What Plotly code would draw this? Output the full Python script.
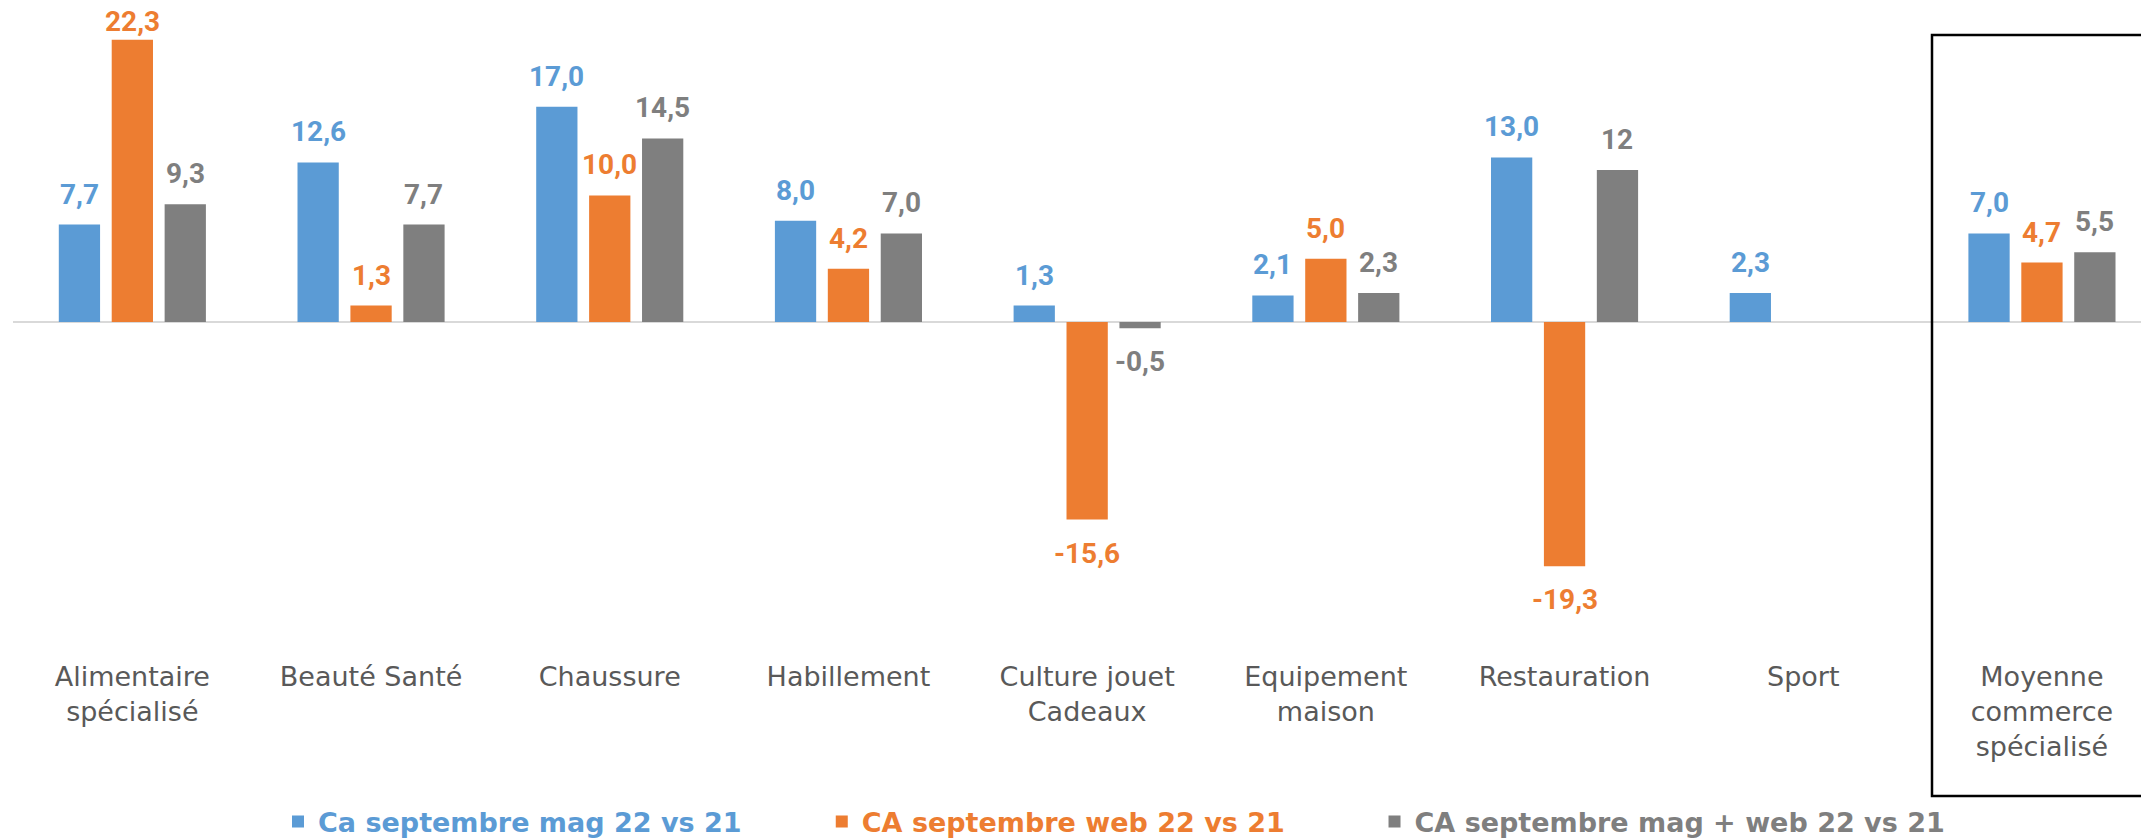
import plotly.graph_objects as go

# ---------------- data ----------------
categories = [
    "Alimentaire<br>spécialisé",
    "Beauté Santé",
    "Chaussure",
    "Habillement",
    "Culture jouet<br>Cadeaux",
    "Equipement<br>maison",
    "Restauration",
    "Sport",
    "Moyenne<br>commerce<br>spécialisé",
]
ca_mag = [7.7, 12.6, 17.0, 8.0, 1.3, 2.1, 13.0, 2.3, 7.0]
ca_web = [22.3, 1.3, 10.0, 4.2, -15.6, 5.0, -19.3, None, 4.7]
ca_total = [9.3, 7.7, 14.5, 7.0, -0.5, 2.3, 12, None, 5.5]
series_names = [
    "Ca septembre mag 22 vs 21",
    "CA septembre web 22 vs 21",
    "CA septembre mag + web 22 vs 21",
]
series_values = [ca_mag, ca_web, ca_total]
colors = ["#5B9BD5", "#ED7D31", "#7F7F7F"]

# ---------------- layout constants ----------------
W, H = 2141, 839
M_L, M_T, M_B, M_R = 13, 0, 189, 0
PLOT_H = H - M_T - M_B
PLOT_W = W - M_L - M_R
PX_PER_UNIT = 12.66
ZERO_PX = 322
Y_MAX = ZERO_PX / PX_PER_UNIT
Y_MIN = -(PLOT_H - ZERO_PX) / PX_PER_UNIT
CAT_PX = 238.7
X_MAX = PLOT_W / CAT_PX - 0.5
BARGAP = 0.335
BARGROUPGAP = 0.22
SLOT = (1 - BARGAP) / 3
LEGEND_PADS = [8, 9, 0]  # trailing non-breaking spaces after each legend entry


def fmt(v):
    if isinstance(v, int):
        return str(v)
    return f"{v:.1f}".replace(".", ",")


fig = go.Figure()
for k, (name, vals, col) in enumerate(zip(series_names, series_values, colors)):
    pad = "&nbsp;" * LEGEND_PADS[k]
    fig.add_trace(go.Bar(
        x=categories, y=vals,
        name=f'<span style="color:{col}">{name}</span>{pad}',
        marker=dict(color=col, line=dict(width=0)),
        hoverinfo="skip",
    ))

annotations = []
for k, (vals, col) in enumerate(zip(series_values, colors)):
    for i, v in enumerate(vals):
        if v is None:
            continue
        xpos = i + (k - 1) * SLOT
        if v >= 0:
            top_px = (Y_MAX - v) * PX_PER_UNIT
            shift = min(12, top_px - 40)
            annotations.append(dict(
                x=xpos, y=v, xref="x", yref="y", text=fmt(v), showarrow=False,
                yanchor="bottom", yshift=shift,
                font=dict(family="Roboto", size=28, color=col, weight="bold"),
            ))
        else:
            annotations.append(dict(
                x=xpos, y=v, xref="x", yref="y", text=fmt(v), showarrow=False,
                yanchor="top", yshift=-15,
                font=dict(family="Roboto", size=28, color=col, weight="bold"),
            ))

fig.update_layout(
    width=W, height=H,
    margin=dict(l=M_L, r=M_R, t=M_T, b=M_B, pad=0, autoexpand=False),
    paper_bgcolor="white", plot_bgcolor="white",
    barmode="group", bargap=BARGAP, bargroupgap=BARGROUPGAP,
    showlegend=True,
    legend=dict(
        orientation="h", xref="paper", yref="paper",
        x=(278 - M_L) / PLOT_W, y=(PLOT_H - 822) / PLOT_H,
        xanchor="left", yanchor="middle",
        font=dict(family="DejaVu Sans", size=27, color="#7F7F7F", weight="bold"),
        traceorder="normal", bgcolor="rgba(0,0,0,0)",
    ),
    xaxis=dict(
        range=[-0.5, X_MAX], showgrid=False, showline=False, zeroline=False,
        ticks="", ticklabelstandoff=8, automargin=False,
        tickfont=dict(family="DejaVu Sans", size=27, color="#595959"),
        fixedrange=True,
    ),
    yaxis=dict(
        range=[Y_MIN, Y_MAX], showgrid=False, showline=False, showticklabels=False,
        zeroline=True, zerolinecolor="#D9D9D9", zerolinewidth=2, fixedrange=True,
        automargin=False,
    ),
    annotations=annotations,
    shapes=[dict(
        type="rect", xref="paper", yref="paper",
        x0=(1932 - M_L) / PLOT_W, x1=1.05,
        y0=(PLOT_H - 796) / PLOT_H, y1=(PLOT_H - 35) / PLOT_H,
        line=dict(color="black", width=2.5), fillcolor="rgba(0,0,0,0)",
    )],
)

fig.write_html("out.html", post_script="document.body.style.margin='0';",
               config={"displayModeBar": False})
